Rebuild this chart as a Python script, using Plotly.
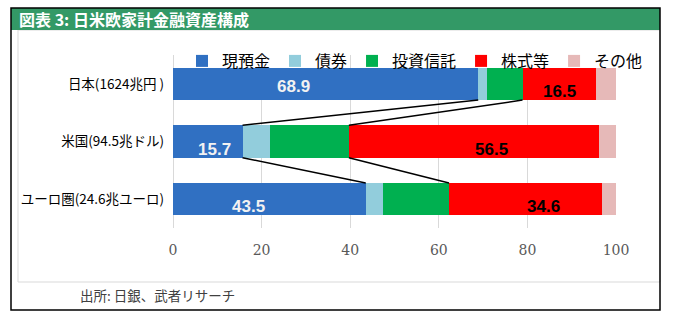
import plotly.graph_objects as go

# 家計金融資産の構成比（%）
regions = ["日本(1624兆円 )", "米国(94.5兆ドル)", "ユーロ圏(24.6兆ユーロ)"]
series_names = ["現預金", "債券", "投資信託", "株式等", "その他"]
cash = [68.9, 15.7, 43.5]
bonds = [1.9, 6.3, 3.9]
funds = [8.1, 17.7, 14.9]
equities = [16.5, 56.5, 34.6]
other = [4.6, 3.8, 3.1]
x_ticks = [0, 20, 40, 60, 80, 100]

values = [cash, bonds, funds, equities, other]
colors = ["#3070C2", "#92CDDC", "#00B050", "#FF0000", "#E6B9B8"]

W, H = 676, 322
L, R, T, B = 173, 60, 55, 94
PW, PH = W - L - R, H - T - B


def px_x(p):
    return (p - L) / PW


def px_y(p):
    return (H - B - p) / PH


BARGAP = 0.436
HALF = (1 - BARGAP) / 2

fig = go.Figure()
for name, vals, col in zip(series_names, values, colors):
    fig.add_trace(go.Bar(
        y=regions, x=vals, name=name, orientation="h",
        marker=dict(color=col, line=dict(width=0)),
    ))

# 値ラベル（現預金・株式等）
label_series = [
    (cash, [0, 0, 0], "#F2F2F2", [-32, 7, -21], [-3, -8, -7]),
    (equities, [sum(v) for v in zip(cash, bonds, funds)], "#000000", [0, 17, 18], [-8, -8, -7]),
]
annotations = []
for vals, starts, col, xs, ys in label_series:
    for i, (v, s) in enumerate(zip(vals, starts)):
        annotations.append(dict(
            x=s + v / 2, y=regions[i], xref="x", yref="y",
            text=f"<b>{v:.1f}</b>", showarrow=False,
            xshift=xs[i], yshift=ys[i],
            font=dict(family="Liberation Sans, Arial", size=17, color=col),
        ))

# 系列線（現預金の端、投資信託の端）
cum_cash = cash
cum_funds = [a + b + c for a, b, c in zip(cash, bonds, funds)]
shapes = []
for cum in (cum_cash, cum_funds):
    for i in range(len(regions) - 1):
        shapes.append(dict(
            type="line", xref="x", yref="y",
            x0=cum[i], y0=i + HALF, x1=cum[i + 1], y1=i + 1 - HALF,
            line=dict(color="#000000", width=1.5), layer="above",
        ))

# 枠・タイトル帯
shapes += [
    dict(type="rect", xref="paper", yref="paper",
         x0=px_x(18), x1=px_x(660), y0=px_y(282), y1=px_y(30),
         line=dict(color="#D9D9D9", width=1), fillcolor="rgba(0,0,0,0)", layer="below"),
    dict(type="rect", xref="paper", yref="paper",
         x0=px_x(11), x1=px_x(660), y0=px_y(30), y1=px_y(8),
         line=dict(width=0), fillcolor="#339966", layer="above"),
    dict(type="rect", xref="paper", yref="paper",
         x0=px_x(11), x1=px_x(660), y0=px_y(310), y1=px_y(8),
         line=dict(color="#000000", width=1.5), fillcolor="rgba(0,0,0,0)", layer="above"),
]

annotations += [
    dict(x=px_x(17), y=px_y(19), xref="paper", yref="paper",
         xanchor="left", yanchor="middle", showarrow=False,
         text="<b>図表 3: 日米欧家計金融資産構成</b>",
         font=dict(family="Noto Sans CJK JP", size=16, color="#FFFFFF")),
    dict(x=px_x(78), y=px_y(295), xref="paper", yref="paper",
         xanchor="left", yanchor="middle", showarrow=False,
         text="出所: 日銀、武者リサーチ",
         font=dict(family="Noto Sans CJK JP", size=13.5, color="#404040")),
]

fig.update_layout(
    width=W, height=H,
    margin=dict(l=L, r=R, t=T, b=B, pad=0),
    paper_bgcolor="#FFFFFF", plot_bgcolor="#FFFFFF",
    barmode="stack", bargap=BARGAP,
    showlegend=True,
    legend=dict(
        orientation="h", x=px_x(648), y=px_y(44),
        xanchor="right", yanchor="top",
        bgcolor="rgba(0,0,0,0)", borderwidth=0,
        font=dict(family="Noto Sans CJK JP", size=16, color="#000000"),
        traceorder="normal",
    ),
    xaxis=dict(
        range=[0, 100], tickvals=x_ticks, showgrid=True, gridcolor="#D9D9D9", gridwidth=1,
        zeroline=True, zerolinecolor="#D9D9D9", zerolinewidth=1,
        showline=False, ticks="", ticklabelstandoff=12,
        tickfont=dict(family="DejaVu Serif", size=14, color="#595959"),
        fixedrange=True,
    ),
    yaxis=dict(
        categoryorder="array", categoryarray=regions, autorange="reversed",
        showgrid=False, zeroline=False, showline=False, ticks="",
        ticklabelstandoff=8,
        tickfont=dict(family="Noto Sans CJK JP", size=13.5, color="#000000"),
        fixedrange=True,
    ),
    shapes=shapes,
    annotations=annotations,
)

fig.write_html("out.html")
